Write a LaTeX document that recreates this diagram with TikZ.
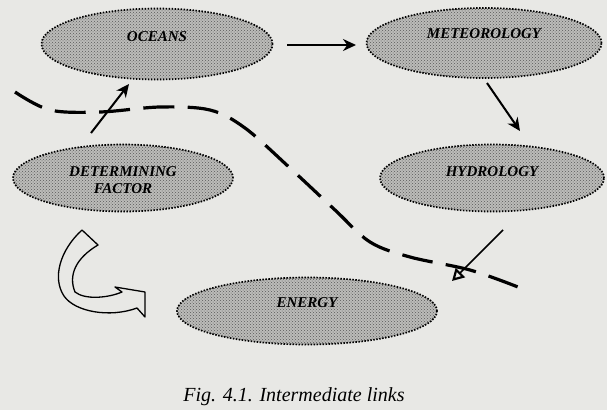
\documentclass[tikz,border=0pt]{standalone}
\usepackage{fontspec}
\setmainfont{Liberation Serif}
\usetikzlibrary{arrows.meta,patterns,shapes.geometric}
\definecolor{paper}{RGB}{232,232,229}
\definecolor{ellfill}{RGB}{188,188,185}
\begin{document}
\begin{tikzpicture}[x=1pt,y=-1pt,
  ell/.style={ellipse, inner sep=0pt, preaction={fill=ellfill}, pattern=crosshatch dots, pattern color=black!65,
    draw=black, line width=1.7pt, dash pattern=on 1.5pt off 1.5pt},
  lbl/.style={font=\fontsize{15}{16}\selectfont\bfseries\itshape, text=black},
  arr/.style={line width=2pt, -{Stealth[length=13pt,width=12pt]}},
]
\useasboundingbox[fill=paper] (0,0) rectangle (607,410);
% ellipses
\node[ell, minimum width=231pt, minimum height=71pt, label={[lbl,yshift=7pt]center:OCEANS}] (oc) at (157,44) {};
\node[ell, minimum width=235pt, minimum height=70pt, label={[lbl,yshift=9pt]center:METEOROLOGY}] (met) at (484,43) {};
\node[ell, minimum width=220pt, minimum height=67pt, label={[lbl,align=center,yshift=-2pt,font=\fontsize{15}{17}\selectfont\bfseries\itshape]center:DETERMINING\\FACTOR}] (det) at (123,178) {};
\node[ell, minimum width=224pt, minimum height=67pt, label={[lbl,yshift=6pt]center:HYDROLOGY}] (hyd) at (492,178) {};
\node[ell, minimum width=260pt, minimum height=67pt, label={[lbl,yshift=8pt]center:ENERGY}] (en) at (307,311) {};
% caption
\node[font=\fontsize{20}{22}\selectfont\itshape] (cap) at (294,397) {Fig. 4.1. Intermediate links};
% arrow ends
\coordinate (oc1) at (287,45);
\coordinate (met1) at (356,45);
\coordinate (met2) at (487,83);
\coordinate (hyd1) at (520,131);
\coordinate (det1) at (91,133);
\coordinate (oc2) at (129,84);
\coordinate (hyd2) at (503,230);
\coordinate (en1) at (452,281);
% arrows
\draw[arr, line width=2.6pt] (oc1) -- (met1);
\draw[arr] (met2) -- (hyd1);
\draw[arr] (det1) -- (oc2);
\draw[line width=1.5pt, -{Triangle[open,length=12pt,width=13pt,line width=2.2pt]}] (hyd2) -- (en1);
% dashed boundary
\draw[line width=3.2pt, dash pattern=on 31pt off 13.4pt, dash phase=0pt]
  plot[smooth, tension=0.55] coordinates {(15,92) (50,110) (100,112) (160,107) (210,110) (245,128) (290,168) (335,210) (370,242) (410,257) (470,270) (518,287)};
% curved block arrow
\draw[line width=1.3pt, line join=round]
  (82,230) .. controls (60,250) and (52,278) .. (64,296)
  .. controls (75,312) and (110,318) .. (137,308)
  -- (145,317) -- (145,292) -- (115,287) -- (122,292)
  .. controls (108,298) and (85,300) .. (75,292)
  .. controls (68,275) and (76,258) .. (98,245)
  -- cycle;
\end{tikzpicture}
\end{document}
